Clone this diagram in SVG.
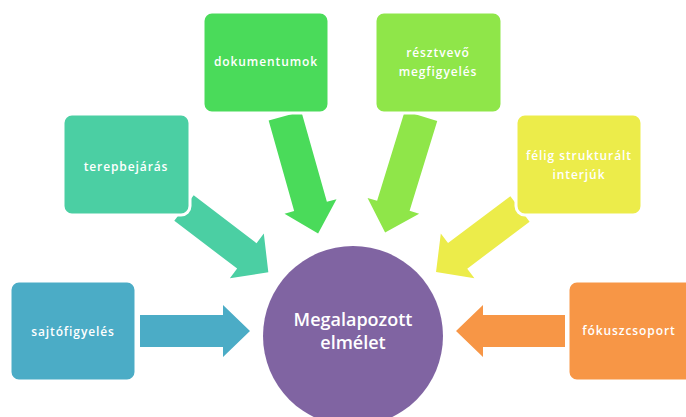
<svg xmlns="http://www.w3.org/2000/svg" width="686" height="417" viewBox="0 0 686 417">
<style>
.box{stroke:#fff;stroke-width:3}
.t{font-family:"Open Sans","Liberation Sans",sans-serif;font-size:12px;font-weight:600;fill:#fff;text-anchor:middle;letter-spacing:0.9px}
.c{font-family:"Open Sans","Liberation Sans",sans-serif;font-size:18px;font-weight:600;fill:#fff;text-anchor:middle}
</style>
<rect width="686" height="417" fill="#fff"/>
<g id="connectors">
<polygon fill="#4BACC6" points="0,-16 83,-16 83,-26 110,0 83,26 83,16 0,16" transform="translate(140,331)"/>
<polygon fill="#F79646" points="0,-16 82,-16 82,-26 109,0 82,26 82,16 0,16" transform="translate(565,331) rotate(180)"/>
<polygon fill="#4BCFA3" points="0,-16 79,-16 79,-28 106,0 79,28 79,16 0,16" transform="translate(184,208) rotate(37.3)"/>
<polygon fill="#ECEC4A" points="0,-16 78,-16 78,-28 105,0 78,28 78,16 0,16" transform="translate(520,209) rotate(143.1)"/>
<polygon fill="#4ADB5A" points="0,-17 94,-17 94,-27 122,0 94,27 94,17 0,17" transform="translate(285,116) rotate(74.25)"/>
<polygon fill="#8FE649" points="0,-17 94,-17 94,-27 122,0 94,27 94,17 0,17" transform="translate(421,116) rotate(107.1)"/>
</g>
<g id="sajto"><rect class="box" x="10" y="281" width="126" height="100" rx="9" fill="#4BACC6"/><text class="t" x="73" y="336">sajtófigyelés</text></g>
<g id="terep"><rect class="box" x="63" y="114" width="127" height="101" rx="9" fill="#4BCFA3"/><text class="t" x="126" y="171">terepbejárás</text></g>
<g id="doku"><rect class="box" x="203" y="12" width="126" height="101" rx="9" fill="#4ADB5A"/><text class="t" x="266" y="66" letter-spacing="0.6">dokumentumok</text></g>
<g id="resztvevo"><rect class="box" x="375" y="12" width="127" height="101" rx="9" fill="#8FE649"/><text class="t" x="438" y="57">résztvevő</text><text class="t" x="438" y="76">megfigyelés</text></g>
<g id="felig"><rect class="box" x="516" y="114" width="126" height="101" rx="9" fill="#ECEC4A"/><text class="t" x="579" y="160" letter-spacing="0.3">félig strukturált</text><text class="t" x="579" y="179">interjúk</text></g>
<g id="fokusz"><rect class="box" x="568" y="281" width="126" height="100" rx="9" fill="#F79646"/><text class="t" x="629" y="335">fókuszcsoport</text></g>
<g id="center"><circle cx="353" cy="336" r="90" fill="#8064A2"/><text class="c" x="353" y="326">Megalapozott</text><text class="c" x="353" y="349">elmélet</text></g>
</svg>
